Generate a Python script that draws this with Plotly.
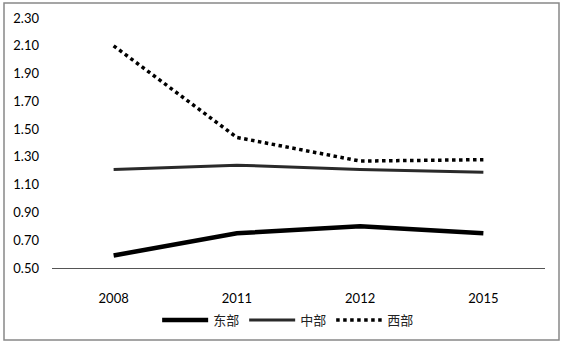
import plotly.graph_objects as go

years = ["2008", "2011", "2012", "2015"]
east = [0.59, 0.75, 0.80, 0.75]
central = [1.21, 1.24, 1.21, 1.19]
west = [2.10, 1.44, 1.27, 1.28]
names = ["东部", "中部", "西部"]
yticks = [0.5, 0.7, 0.9, 1.1, 1.3, 1.5, 1.7, 1.9, 2.1, 2.3]

fig = go.Figure()
fig.add_trace(go.Scatter(x=years, y=east, name=names[0], mode="lines",
                         line=dict(color="#000000", width=4.5)))
fig.add_trace(go.Scatter(x=years, y=central, name=names[1], mode="lines",
                         line=dict(color="#2a2a2a", width=3)))
fig.add_trace(go.Scatter(x=years, y=west, name=names[2], mode="lines",
                         line=dict(color="#000000", width=3.5, dash="dot")))

W, H = 565, 344
L, R, T, B = 52, 20, 18, 76
pw, ph = W - L - R, H - T - B

fig.update_layout(
    width=W, height=H,
    margin=dict(l=L, r=R, t=T, b=B, autoexpand=False),
    paper_bgcolor="white", plot_bgcolor="white",
    font=dict(family="Lato, 'Noto Sans CJK SC'", size=13, color="#000"),
    showlegend=True,
    legend=dict(orientation="h", xref="container", yref="container",
                x=0.51, xanchor="center", y=1 - 320 / H, yanchor="middle",
                font=dict(family="'Noto Sans CJK SC'", size=13, color="#222"),
                itemwidth=46, tracegroupgap=0),
    xaxis=dict(type="category", range=[-0.5, 3.5], showgrid=False,
               showline=True, linecolor="#555", linewidth=1, ticks="",
               ticklabelstandoff=18, zeroline=False,
               tickfont=dict(family="Lato", size=13, color="#000")),
    yaxis=dict(range=[0.5, 2.3], tickvals=yticks,
               ticktext=[f"{v:.2f}" for v in yticks],
               showgrid=False, showline=False, zeroline=False, ticks="",
               ticklabelstandoff=12,
               tickfont=dict(family="Lato", size=13, color="#000")),
    shapes=[dict(type="rect", xref="paper", yref="paper",
                 x0=(4 - L) / pw, x1=(559 - L) / pw,
                 y0=(H - B - 340) / ph, y1=(H - B - 3) / ph,
                 line=dict(color="#888", width=1.5))],
)

fig.write_html("out.html")
